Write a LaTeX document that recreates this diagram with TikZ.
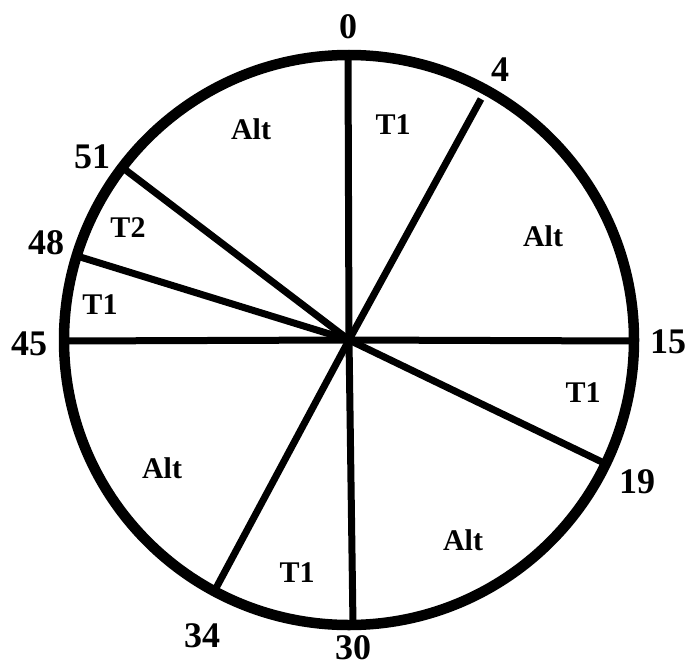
\documentclass[tikz,border=0pt]{standalone}
\usepackage{fontspec}
\setmainfont{Liberation Serif}
\begin{document}
\begin{tikzpicture}[x=1pt,y=-1pt,
  rim/.style={line width=10.5pt},
  spoke/.style={line width=7pt},
  num/.style={font=\fontsize{36}{38}\selectfont\bfseries, inner sep=0pt},
  lab/.style={font=\fontsize{30}{32}\selectfont\bfseries, inner sep=0pt}]
\useasboundingbox (0,0) rectangle (690,669);
\coordinate (c) at (349,340);
\draw[rim] (c) circle (285);
\coordinate (p0) at (348,55);
\coordinate (p4) at (481,99);
\coordinate (p15) at (634,341);
\coordinate (p19) at (604,463);
\coordinate (p30) at (353,625);
\coordinate (p34) at (215,590);
\coordinate (p45) at (63,341);
\coordinate (p48) at (77,256);
\coordinate (p51) at (123,168);
\foreach \p in {p0,p4,p15,p19,p30,p34,p45,p48,p51}
  \draw[spoke] (c) -- (\p);
\node[num] (n0) at (348,27) {0};
\node[num] (n4) at (500,70) {4};
\node[num] (n15) at (668,342) {15};
\node[num] (n19) at (637,482) {19};
\node[num] (n30) at (353,648) {30};
\node[num] (n34) at (202,636) {34};
\node[num] (n45) at (29,344) {45};
\node[num] (n48) at (46,243) {48};
\node[num] (n51) at (92,157) {51};
\node[lab] (a1) at (393,125) {T1};
\node[lab] (a2) at (543,236) {Alt};
\node[lab] (a3) at (583,393) {T1};
\node[lab] (a4) at (463,540) {Alt};
\node[lab] (a5) at (297,573) {T1};
\node[lab] (a6) at (162,468) {Alt};
\node[lab] (a7) at (100,305) {T1};
\node[lab] (a8) at (128,228) {T2};
\node[lab] (a9) at (251,129) {Alt};
\end{tikzpicture}
\end{document}
